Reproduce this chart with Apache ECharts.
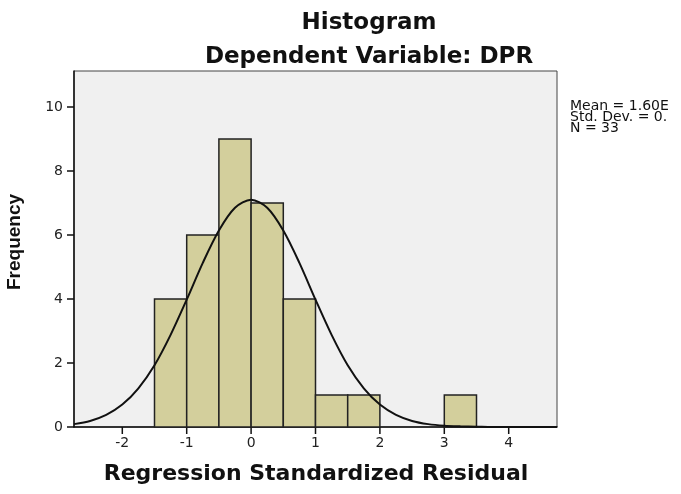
<!DOCTYPE html>
<html>
<head>
<meta charset="utf-8">
<script src="https://cdn.jsdelivr.net/npm/echarts@6/dist/echarts.min.js"></script>
<style>
  html, body { margin: 0; padding: 0; background: #fff; }
  #chart { width: 681px; height: 494px; }
</style>
</head>
<body>
<div id="chart"></div>
<script>
// histogram bins (regression standardized residual)
var binStart = [-1.5, -1, -0.5, 0, 0.5, 1, 1.5, 3];
var binEnd = [-1, -0.5, 0, 0.5, 1, 1.5, 2, 3.5];
var counts = [4, 6, 9, 7, 4, 1, 1, 1];

// normal curve
var curveX = [-2.75, -2.5, -2.25, -2, -1.75, -1.5, -1.25, -1, -0.75, -0.5, -0.25, 0,
  0.25, 0.5, 0.75, 1, 1.25, 1.5, 1.75, 2, 2.25, 2.5, 2.75, 3, 3.25, 3.5, 3.75, 4, 4.25, 4.5, 4.75];
var curveY = [0.09, 0.19, 0.38, 0.70, 1.21, 1.93, 2.88, 3.98, 5.13, 6.14, 6.85, 7.10,
  6.85, 6.14, 5.13, 3.98, 2.88, 1.93, 1.21, 0.70, 0.38, 0.19, 0.09, 0.04, 0.02, 0.01, 0, 0, 0, 0, 0];

var xTicks = [-2, -1, 0, 1, 2, 3, 4];
var yTicks = [0, 2, 4, 6, 8, 10];
var statsLines = ['Mean = 1.60E', 'Std. Dev. = 0.', 'N = 33'];

var chartDom = document.getElementById('chart');
var myChart = echarts.init(chartDom);
var option;

var barData = binStart.map(function (s, i) { return [s, binEnd[i], counts[i]]; });
var lineData = curveX.map(function (x, i) { return [x, curveY[i]]; });

option = {
  animation: false,
  title: [
    {
      text: 'Histogram',
      left: 364,
      top: 7,
      textAlign: 'center',
      textStyle: { fontFamily: 'DejaVu Sans', fontWeight: 'bold', fontSize: 23, color: '#111' }
    },
    {
      text: 'Dependent Variable: DPR',
      left: 364,
      top: 41,
      textAlign: 'center',
      textStyle: { fontFamily: 'DejaVu Sans', fontWeight: 'bold', fontSize: 23, color: '#111' }
    }
  ],
  grid: {
    left: 74,
    right: 124,
    top: 71,
    bottom: 67,
    show: true,
    backgroundColor: '#f0f0f0',
    borderColor: '#444',
    borderWidth: 1
  },
  xAxis: {
    type: 'value',
    min: -2.75,
    max: 4.75,
    splitLine: { show: false },
    axisLine: { onZero: false, lineStyle: { color: '#111', width: 1.5 } },
    axisTick: { show: false },
    axisLabel: {
      customValues: xTicks,
      margin: 9,
      fontFamily: 'DejaVu Sans',
      fontSize: 14,
      color: '#222'
    }
  },
  yAxis: {
    type: 'value',
    min: 0,
    max: 11.125,
    splitLine: { show: false },
    axisLine: { show: true, onZero: false, lineStyle: { color: '#111', width: 1.5 } },
    axisTick: { show: true, length: 7, customValues: yTicks, lineStyle: { color: '#111', width: 1.5 } },
    axisLabel: {
      customValues: yTicks,
      margin: 11,
      fontFamily: 'DejaVu Sans',
      fontSize: 14,
      color: '#222'
    }
  },
  graphic: [
    {
      type: 'text',
      x: 316,
      y: 474,
      style: {
        text: 'Regression Standardized Residual',
        align: 'center',
        verticalAlign: 'middle',
        font: 'bold 22px "DejaVu Sans"',
        fill: '#111'
      }
    },
    {
      type: 'text',
      x: 15,
      y: 242,
      rotation: Math.PI / 2,
      style: {
        text: 'Frequency',
        align: 'center',
        verticalAlign: 'middle',
        font: 'bold 19px "Liberation Sans"',
        fill: '#111'
      }
    },
    {
      type: 'text',
      x: 570,
      y: 101,
      style: {
        text: statsLines.join('\n'),
        font: '14px "DejaVu Sans"',
        lineHeight: 11,
        fill: '#111'
      }
    }
  ],
  series: [
    {
      type: 'custom',
      renderItem: function (params, api) {
        var p0 = api.coord([api.value(0), api.value(2)]);
        var p1 = api.coord([api.value(1), 0]);
        var children = [{
          type: 'rect',
          shape: { x: p0[0], y: p0[1], width: p1[0] - p0[0], height: p1[1] - p0[1] },
          style: { fill: '#d3cf9c', stroke: '#222', lineWidth: 1.5 }
        }];
        // x-axis tick marks, added once with the first bar
        if (params.dataIndex === 0) {
          xTicks.forEach(function (v) {
            var t = api.coord([v, 0]);
            children.push({
              type: 'rect',
              shape: { x: t[0] - 0.75, y: t[1], width: 1.5, height: 7 },
              style: { fill: '#111' }
            });
          });
        }
        return { type: 'group', children: children };
      },
      encode: { x: [0, 1], y: 2 },
      data: barData,
      z: 2
    },
    {
      type: 'line',
      data: lineData,
      smooth: 0.3,
      showSymbol: false,
      lineStyle: { color: '#111', width: 2 },
      z: 3
    }
  ]
};

option && myChart.setOption(option);
</script>
</body>
</html>
